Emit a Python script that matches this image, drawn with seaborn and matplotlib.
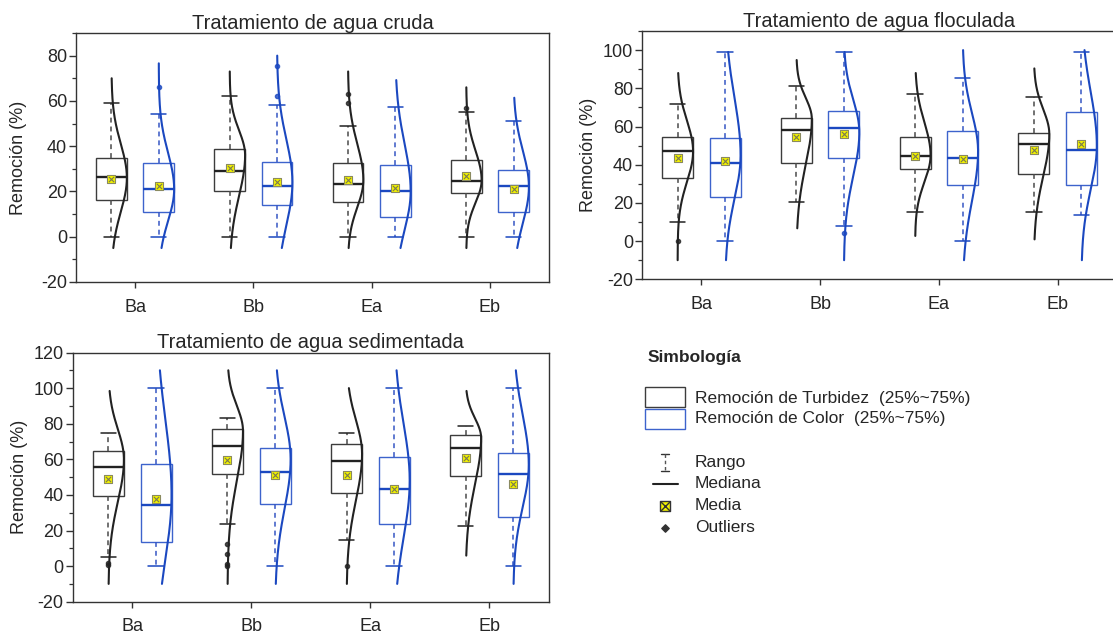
import numpy as np
import matplotlib
matplotlib.use("Agg")
import matplotlib.pyplot as plt
from matplotlib.ticker import AutoMinorLocator, MultipleLocator
from matplotlib.patches import Rectangle
import seaborn as sns

# ---------------- DATA ----------------
categories = ["Ba", "Bb", "Ea", "Eb"]

# Tratamiento de agua cruda
cruda_turb_q1 = [16.3, 20.0, 15.5, 19.4]
cruda_turb_med = [26.2, 29.0, 23.5, 24.8]
cruda_turb_q3 = [35.0, 38.6, 32.7, 33.7]
cruda_turb_mean = [25.6, 30.3, 25.0, 26.8]
cruda_turb_min = [0.0, 0.0, 0.0, 0.0]
cruda_turb_max = [59.2, 62.3, 48.9, 55.0]
cruda_turb_out = [[], [], [62.9, 59.0], [57.0]]
cruda_turb_peak = [26, 36, 25, 25]
cruda_turb_sdlo = [15, 18, 12, 10]
cruda_turb_sdhi = [15, 11, 16, 13]
cruda_turb_cmin = [-5, -5, -5, -5]
cruda_turb_cmax = [70, 73, 73, 66]

cruda_col_q1 = [10.8, 13.8, 8.6, 11.1]
cruda_col_med = [21.3, 22.6, 20.4, 22.6]
cruda_col_q3 = [32.4, 33.0, 31.5, 29.6]
cruda_col_mean = [22.6, 24.0, 21.6, 21.2]
cruda_col_min = [0.0, 0.0, 0.0, 0.0]
cruda_col_max = [54.2, 58.2, 57.1, 51.2]
cruda_col_out = [[66.0], [75.4, 62.3], [], []]
cruda_col_peak = [21, 24, 20, 22]
cruda_col_sdlo = [14, 19, 17, 16]
cruda_col_sdhi = [16, 19, 21, 16]
cruda_col_cmin = [-5, -5, -5, -5]
cruda_col_cmax = [76.6, 80, 69.2, 61.4]

# Tratamiento de agua floculada
floc_turb_q1 = [33.2, 41.0, 37.7, 35.1]
floc_turb_med = [47.3, 58.1, 44.4, 50.6]
floc_turb_q3 = [54.3, 64.6, 54.5, 56.6]
floc_turb_mean = [43.3, 54.3, 44.4, 47.5]
floc_turb_min = [10.2, 20.3, 15.0, 15.0]
floc_turb_max = [71.7, 81.0, 76.8, 75.6]
floc_turb_out = [[0.0], [], [], []]
floc_turb_peak = [47, 64, 45, 56]
floc_turb_sdlo = [16, 24, 14, 22]
floc_turb_sdhi = [16, 11, 17, 13]
floc_turb_cmin = [-10, 6.7, 2.7, 0.9]
floc_turb_cmax = [88, 94.8, 88, 90.4]

floc_col_q1 = [22.9, 43.7, 29.5, 29.2]
floc_col_med = [41.0, 59.2, 43.7, 47.7]
floc_col_q3 = [54.1, 68.3, 57.8, 67.4]
floc_col_mean = [41.7, 56.0, 42.8, 50.6]
floc_col_min = [0.0, 7.7, 0.0, 13.5]
floc_col_max = [99.0, 99.0, 85.2, 99.0]
floc_col_out = [[], [4.4], [], []]
floc_col_peak = [45, 57, 47, 50]
floc_col_sdlo = [23, 23, 26, 23]
floc_col_sdhi = [30, 17, 20, 28]
floc_col_cmin = [-10, -10, -10, -10]
floc_col_cmax = [99, 99, 100, 100]

# Tratamiento de agua sedimentada
sed_turb_q1 = [39.6, 52.0, 41.3, 50.7]
sed_turb_med = [55.9, 67.2, 58.9, 66.6]
sed_turb_q3 = [64.9, 76.9, 68.5, 73.9]
sed_turb_mean = [49.2, 59.5, 51.0, 60.8]
sed_turb_min = [5.3, 23.9, 14.7, 22.5]
sed_turb_max = [75.0, 83.3, 74.5, 78.6]
sed_turb_out = [[0.6, 1.5], [12.2, 6.6, 1.0, 0.2], [0.0], []]
sed_turb_peak = [60, 76, 63, 72]
sed_turb_sdlo = [24, 28, 26, 26]
sed_turb_sdhi = [17, 14, 19, 11]
sed_turb_cmin = [-10, -10, -10, 5.9]
sed_turb_cmax = [98.4, 110, 100, 98.4]

sed_col_q1 = [13.4, 34.9, 23.5, 27.4]
sed_col_med = [34.4, 52.9, 43.2, 52.0]
sed_col_q3 = [57.4, 66.2, 61.3, 63.8]
sed_col_mean = [37.5, 51.4, 43.2, 46.4]
sed_col_min = [0.0, 0.0, 0.0, 0.0]
sed_col_max = [100.0, 100.0, 100.0, 100.0]
sed_col_out = [[], [], [], []]
sed_col_peak = [40, 60, 48, 57]
sed_col_sdlo = [36, 28, 32, 24]
sed_col_sdhi = [42, 24, 32, 28]
sed_col_cmin = [-10, -10, -10, -10]
sed_col_cmax = [110, 110, 110, 110]

titles = ["Tratamiento de agua cruda", "Tratamiento de agua floculada",
          "Tratamiento de agua sedimentada"]
ylabel = "Remoción (%)"
legend_title = "Simbología"
legend_box_labels = ["Remoción de Turbidez  (25%~75%)", "Remoción de Color  (25%~75%)"]
legend_sym_labels = ["Rango", "Mediana", "Media", "Outliers"]

# ---------------- STYLE ----------------
sns.set_theme(style="ticks")
plt.rcParams["font.family"] = ["Liberation Sans", "DejaVu Sans"]
plt.rcParams["axes.unicode_minus"] = False
plt.rcParams["axes.edgecolor"] = "#333333"
plt.rcParams["axes.linewidth"] = 1.0

BLACK = dict(box="#3c3c3c", line="#222222", whisk="#4a4a4a", off=-0.2)
BLUE = dict(box="#3d63cc", line="#1b48c0", whisk="#3556c4", off=0.2)
BOXW = 0.26
CAPW = 0.13
YELLOW = "#f2f200"
TICKFS = 13
LEGFS = 12.5


def series(q1, med, q3, mean, wmin, wmax, out, peak, sdlo, sdhi, cmin, cmax):
    return dict(q1=q1, med=med, q3=q3, mean=mean, wmin=wmin, wmax=wmax, out=out,
                peak=peak, sdlo=sdlo, sdhi=sdhi, cmin=cmin, cmax=cmax)


def draw_series(ax, s, sty):
    pos = np.arange(len(categories)) + sty["off"]
    stats = []
    for i in range(len(categories)):
        stats.append(dict(q1=s["q1"][i], med=s["med"][i], q3=s["q3"][i],
                          whislo=s["wmin"][i], whishi=s["wmax"][i],
                          fliers=np.array(s["out"][i], dtype=float), mean=s["mean"][i]))
    ax.bxp(stats, positions=pos, widths=BOXW, capwidths=CAPW, patch_artist=True,
           showfliers=True, showmeans=False, manage_ticks=False,
           boxprops=dict(facecolor="white", edgecolor=sty["box"], linewidth=1.0),
           medianprops=dict(color=sty["line"], linewidth=1.7),
           whiskerprops=dict(color=sty["whisk"], linewidth=1.1, linestyle=(0, (3.2, 2.6))),
           capprops=dict(color=sty["line"], linewidth=1.1),
           flierprops=dict(marker="o", markersize=3.0, markerfacecolor=sty["line"],
                           markeredgecolor=sty["line"], alpha=0.8),
           zorder=2)
    # half distribution curves
    for i in range(len(categories)):
        y = np.linspace(s["cmin"][i], s["cmax"][i], 300)
        sd = np.where(y < s["peak"][i], s["sdlo"][i], s["sdhi"][i])
        x = pos[i] + (BOXW / 2) * np.exp(-0.5 * ((y - s["peak"][i]) / sd) ** 2)
        sns.lineplot(x=x, y=y, sort=False, estimator=None, color=sty["line"],
                     linewidth=1.5, ax=ax, zorder=3)
    # means
    sns.scatterplot(x=pos, y=s["mean"], marker="s", s=40, color=YELLOW,
                    edgecolor="#8a8a60", linewidth=0.8, ax=ax, zorder=4)
    ax.scatter(pos, s["mean"], marker="x", s=14, color="#7a7a50", linewidth=0.8, zorder=5)


def style_axes(ax, ylim, title, lab_x):
    ax.set_xlim(-0.5, 3.5)
    ax.set_ylim(*ylim)
    ax.set_xticks(range(len(categories)))
    ax.set_xticklabels(categories)
    ax.yaxis.set_major_locator(MultipleLocator(20))
    ax.yaxis.set_minor_locator(AutoMinorLocator(2))
    ax.tick_params(axis="both", which="major", direction="out", length=5, width=1,
                   color="#333333", labelsize=TICKFS, top=False, right=False)
    ax.tick_params(axis="y", which="major", pad=1.5)
    ax.tick_params(axis="x", which="major", pad=8, length=4)
    ax.tick_params(axis="y", which="minor", direction="out", length=3, width=0.9,
                   color="#333333", left=True, right=False)
    ax.tick_params(axis="x", which="minor", bottom=False, top=False)
    for sp in ax.spines.values():
        sp.set_visible(True)
        sp.set_color("#333333")
        sp.set_linewidth(1.0)
    ax.set_title(title, fontsize=14.5, pad=3)
    ax.set_ylabel(ylabel, fontsize=13)
    ax.yaxis.set_label_coords(lab_x, 0.5)
    ax.set_xlabel("")
    ax.grid(False)


W, H = 1113, 634
fig = plt.figure(figsize=(W / 100, H / 100), dpi=100)
fig.patch.set_facecolor("white")

ax1 = fig.add_axes([76 / W, 1 - 282 / H, 473 / W, 249 / H])
ax2 = fig.add_axes([642 / W, 1 - 279.3 / H, 475 / W, 248.3 / H])
ax3 = fig.add_axes([72.7 / W, 1 - 601.7 / H, 476.3 / W, 249.2 / H])

panels = [
    (ax1, series(cruda_turb_q1, cruda_turb_med, cruda_turb_q3, cruda_turb_mean, cruda_turb_min,
                 cruda_turb_max, cruda_turb_out, cruda_turb_peak, cruda_turb_sdlo, cruda_turb_sdhi,
                 cruda_turb_cmin, cruda_turb_cmax),
     series(cruda_col_q1, cruda_col_med, cruda_col_q3, cruda_col_mean, cruda_col_min,
            cruda_col_max, cruda_col_out, cruda_col_peak, cruda_col_sdlo, cruda_col_sdhi,
            cruda_col_cmin, cruda_col_cmax),
     (-20, 90), titles[0], -0.104),
    (ax2, series(floc_turb_q1, floc_turb_med, floc_turb_q3, floc_turb_mean, floc_turb_min,
                 floc_turb_max, floc_turb_out, floc_turb_peak, floc_turb_sdlo, floc_turb_sdhi,
                 floc_turb_cmin, floc_turb_cmax),
     series(floc_col_q1, floc_col_med, floc_col_q3, floc_col_mean, floc_col_min,
            floc_col_max, floc_col_out, floc_col_peak, floc_col_sdlo, floc_col_sdhi,
            floc_col_cmin, floc_col_cmax),
     (-20, 110), titles[1], -0.094),
    (ax3, series(sed_turb_q1, sed_turb_med, sed_turb_q3, sed_turb_mean, sed_turb_min,
                 sed_turb_max, sed_turb_out, sed_turb_peak, sed_turb_sdlo, sed_turb_sdhi,
                 sed_turb_cmin, sed_turb_cmax),
     series(sed_col_q1, sed_col_med, sed_col_q3, sed_col_mean, sed_col_min,
            sed_col_max, sed_col_out, sed_col_peak, sed_col_sdlo, sed_col_sdhi,
            sed_col_cmin, sed_col_cmax),
     (-20, 120), titles[2], -0.094),
]

for ax, turb, col, ylim, title, lab_x in panels:
    draw_series(ax, turb, BLACK)
    draw_series(ax, col, BLUE)
    style_axes(ax, ylim, title, lab_x)

# ---------------- LEGEND (Simbología) ----------------
lx0, ly0, lw, lh = 630, 330, 450, 230
lax = fig.add_axes([lx0 / W, 1 - (ly0 + lh) / H, lw / W, lh / H])
lax.set_xlim(lx0, lx0 + lw)
lax.set_ylim(ly0 + lh, ly0)
lax.axis("off")
lax.patch.set_alpha(0)

lax.text(648, 358, legend_title, fontsize=LEGFS, fontweight="bold", va="center", ha="left")
lax.add_patch(Rectangle((645, 387), 40, 20, facecolor="white", edgecolor=BLACK["box"], lw=1.0))
lax.add_patch(Rectangle((645, 409), 40, 20, facecolor="white", edgecolor=BLUE["box"], lw=1.0))
lax.text(695, 398, legend_box_labels[0], fontsize=LEGFS, va="center", ha="left")
lax.text(695, 419, legend_box_labels[1], fontsize=LEGFS, va="center", ha="left")
# Rango
lax.plot([661, 669], [454, 454], color="#333333", lw=1.0)
lax.plot([661, 669], [471, 471], color="#333333", lw=1.0)
lax.plot([665, 665], [454, 471], color="#555555", lw=1.0, ls=(0, (2.5, 2)))
lax.text(695, 463, legend_sym_labels[0], fontsize=LEGFS, va="center", ha="left")
# Mediana
lax.plot([653, 678], [484, 484], color="#222222", lw=1.5)
lax.text(695, 484, legend_sym_labels[1], fontsize=LEGFS, va="center", ha="left")
# Media
lax.scatter([665], [506], marker="s", s=60, color=YELLOW, edgecolor="#333333", linewidth=1.0)
lax.scatter([665], [506], marker="x", s=40, color="#333333", linewidth=1.0)
lax.text(695, 506, legend_sym_labels[2], fontsize=LEGFS, va="center", ha="left")
# Outliers
lax.scatter([665], [528], marker="D", s=14, color="#333333")
lax.text(695, 528, legend_sym_labels[3], fontsize=LEGFS, va="center", ha="left")

fig.savefig("out.png", dpi=100)
